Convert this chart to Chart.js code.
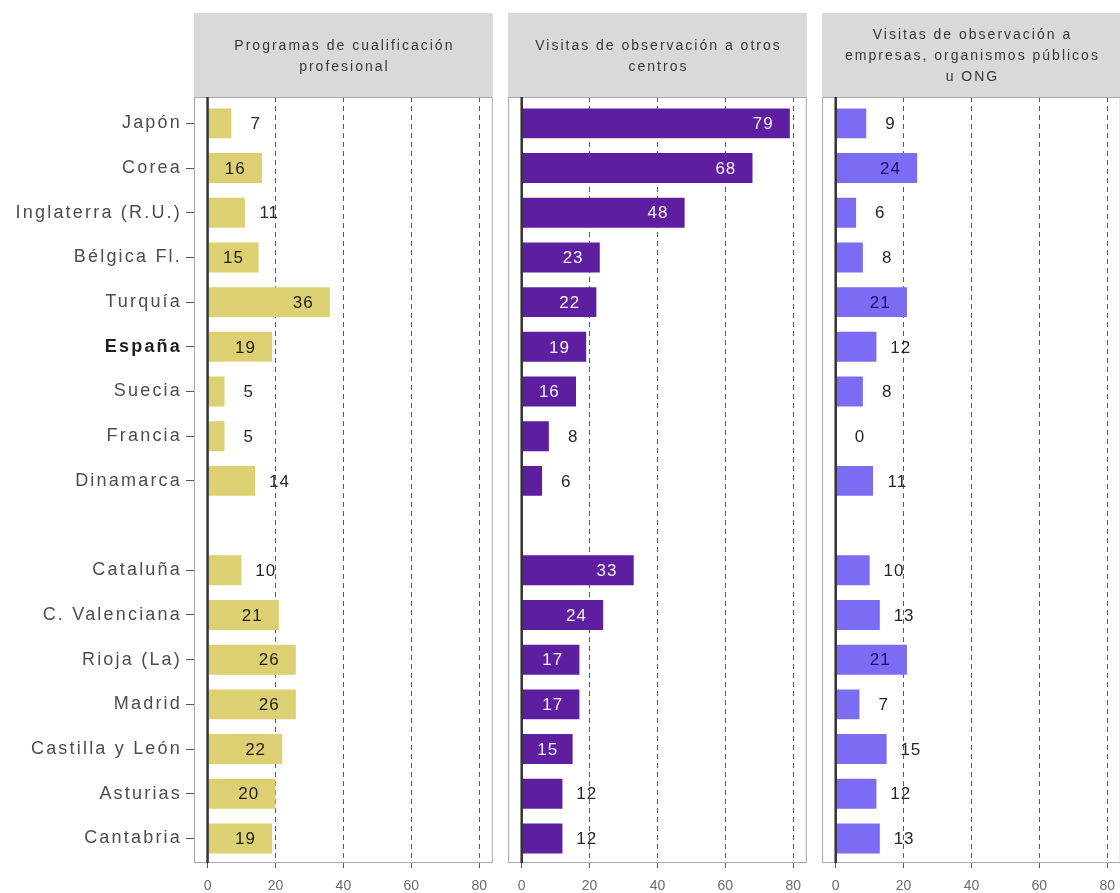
<!DOCTYPE html>
<html>
<head>
<meta charset="utf-8">
<script src="https://cdn.jsdelivr.net/npm/chart.js@4"></script>
<style>
html,body{margin:0;padding:0;background:#fff;overflow:hidden;}
#wrap{position:relative;width:1120px;height:893px;overflow:hidden;background:#fff;}
canvas{position:absolute;top:0;}
</style>
</head>
<body>
<div id="wrap">
<canvas id="p0" width="497" height="893" style="left:0px"></canvas>
<canvas id="p1" width="303" height="893" style="left:508px"></canvas>
<canvas id="p2" width="303" height="893" style="left:822px"></canvas>
</div>
<script>
// ---- data ----
const categories = ['Japón','Corea','Inglaterra (R.U.)','Bélgica Fl.','Turquía','España','Suecia','Francia','Dinamarca','',
  'Cataluña','C. Valenciana','Rioja (La)','Madrid','Castilla y León','Asturias','Cantabria'];
const boldCategories = ['España'];
const programas       = [7,16,11,15,36,19,5,5,14,null,10,21,26,26,22,20,19];
const visitasCentros  = [79,68,48,23,22,19,16,8,6,null,33,24,17,17,15,12,12];
const visitasEmpresas = [9,24,6,8,21,12,8,0,11,null,10,13,21,7,15,12,13];
const panelTitles = [
  ['Programas de cualificación','profesional'],
  ['Visitas de observación a otros','centros'],
  ['Visitas de observación a','empresas, organismos públicos','u ONG']
];
const xTicks = [0,20,40,60,80];

// ---- styles ----
const seriesValues = [programas, visitasCentros, visitasEmpresas];
const barColors = ['#DDD073','#5D1FA0','#7C6CF4'];
const insideLabelColors = ['#1f1f1f','#F6F0FF','#1B1466'];
const insideMin = [15,15,16];
const FONT = "'Liberation Sans', Arial, Helvetica, sans-serif";

function facetPlugin(idx){
  return {
    id:'facet'+idx,
    beforeDraw(chart){
      const ctx = chart.ctx, a = chart.chartArea;
      ctx.save();
      ctx.fillStyle = '#D9D9D9';
      ctx.fillRect(a.left, 13, a.right - a.left, a.top - 13);
      ctx.fillStyle = '#383838';
      ctx.font = '14px ' + FONT;
      ctx.letterSpacing = '2px';
      ctx.textAlign = 'center';
      ctx.textBaseline = 'middle';
      const lines = panelTitles[idx];
      const lh = 21, cy = 56.5;
      lines.forEach((t,i)=>{
        ctx.fillText(t, (a.left + a.right)/2 + 1, cy + (i - (lines.length-1)/2)*lh);
      });
      ctx.restore();
      ctx.letterSpacing = '2.2px';
    },
    afterDatasetsDraw(chart){
      const ctx = chart.ctx, a = chart.chartArea;
      const xs = chart.scales.x;
      ctx.save();
      // panel border
      ctx.strokeStyle = '#A8A8A8';
      ctx.lineWidth = 1;
      ctx.strokeRect(a.left + 0.5, a.top + 0.5, a.right - a.left - 1, a.bottom - a.top - 1);
      // zero line
      const x0 = xs.getPixelForValue(0);
      ctx.strokeStyle = '#333333';
      ctx.lineWidth = 2.5;
      ctx.beginPath(); ctx.moveTo(x0, a.top); ctx.lineTo(x0, a.bottom); ctx.stroke();
      // value labels
      ctx.font = '17px ' + FONT;
      ctx.letterSpacing = '1px';
      ctx.textAlign = 'center';
      ctx.textBaseline = 'middle';
      const meta = chart.getDatasetMeta(0);
      const ds = chart.data.datasets[0].data;
      meta.data.forEach((bar, j)=>{
        const v = ds[j].x;
        const inside = v >= insideMin[idx];
        const pos = inside ? Math.max(v - 8, v/2) : v + 7;
        ctx.fillStyle = inside ? insideLabelColors[idx] : '#262626';
        ctx.fillText(String(v), xs.getPixelForValue(pos) + 0.5, bar.y + 1);
      });
      ctx.restore();
      ctx.letterSpacing = '0px';
    }
  };
}

function makePanel(idx, showY){
  const values = seriesValues[idx];
  const data = values.map((v,i)=> v === null ? null : {x:v, y:i}).filter(d => d !== null);
  new Chart(document.getElementById('p'+idx), {
    type:'bar',
    data:{ datasets:[{ data, backgroundColor:barColors[idx], borderWidth:0,
      categoryPercentage:1, barPercentage:0.67 }] },
    options:{
      indexAxis:'y',
      responsive:false, animation:false, devicePixelRatio:1, events:[],
      layout:{ padding:{ top:97, left:0, right:0, bottom:0 } },
      plugins:{ legend:{display:false}, tooltip:{enabled:false}, title:{display:false} },
      scales:{
        x:{
          type:'linear', min:-4, max:84, position:'bottom', offset:false,
          afterBuildTicks:(s)=>{ s.ticks = xTicks.map(v=>({value:v})); },
          afterFit:(s)=>{ s.height = 30; },
          grid:{ display:true, offset:false, drawOnChartArea:true, drawTicks:true, tickLength:5,
            color:(c)=> (c.tick && c.tick.value === 0) ? 'rgba(0,0,0,0)' : '#5a5a5a',
            tickColor:'#5a5a5a', lineWidth:1, tickBorderDash:[], z:-1 },
          border:{ display:false, dash:[5,4] },
          ticks:{ z:1, padding:10, autoSkip:false, maxRotation:0, color:'#6b6b6b',
            font:{ family:FONT, size:14 }, callback:(v)=> String(v) }
        },
        y:{
          type:'linear', reverse:true, min:-0.59, max:16.55, display:showY, offset:false,
          afterBuildTicks:(s)=>{ s.ticks = categories.map((_,i)=>({value:i})); },
          afterFit:(s)=>{ s.width = showY ? 194 : 0; },
          grid:{ display:true, offset:false, drawOnChartArea:false, drawTicks:true, tickLength:8, lineWidth:1,
            tickColor:(c)=> (c.tick && categories[c.tick.value]) ? '#555555' : 'rgba(0,0,0,0)' },
          border:{ display:false },
          ticks:{ autoSkip:false, padding:4,
            color:(c)=> (c.tick && boldCategories.includes(categories[c.tick.value])) ? '#1e1e1e' : '#4D4D4D',
            font:(c)=> ({ family:FONT, size:18,
              weight:(c.tick && boldCategories.includes(categories[c.tick.value])) ? 'bold' : 'normal' }),
            callback:(v)=> categories[v] ?? '' }
        }
      }
    },
    plugins:[facetPlugin(idx)]
  });
}

makePanel(0, true);
makePanel(1, false);
makePanel(2, false);
</script>
</body>
</html>
